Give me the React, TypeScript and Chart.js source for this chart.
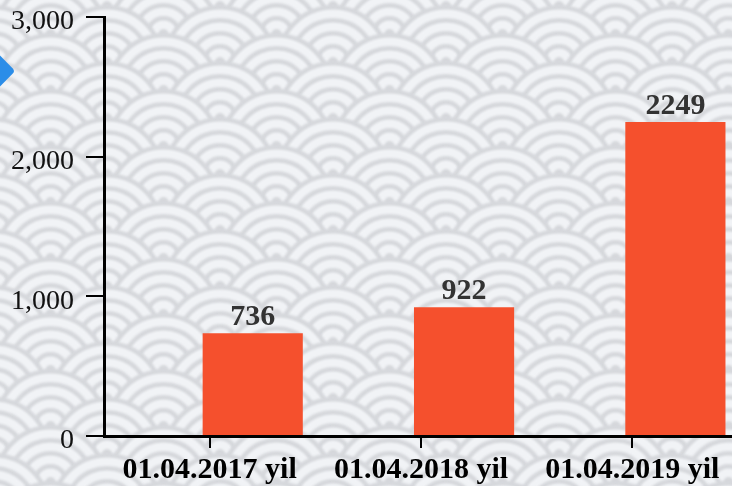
import React, { useEffect, useRef } from "react";
import { Chart, registerables } from "chart.js";

Chart.register(...registerables);

const categories = ["01.04.2017 yil", "01.04.2018 yil", "01.04.2019 yil"];
const values = [736, 922, 2249];
const yTicks = [0, 1000, 2000, 3000];

const SERIF = "'Liberation Serif', 'Times New Roman', serif";

const backgroundPlugin = {
  id: "seigaiha",
  beforeDraw(chart: any) {
    const ctx = chart.ctx as CanvasRenderingContext2D;
    const w = chart.width;
    const h = chart.height;
    ctx.save();
    ctx.fillStyle = "#f1f3f6";
    ctx.fillRect(0, 0, w, h);
    ctx.filter = "blur(1px)";
    const period = 113;
    const rings = [
      [57, "#d6d8dc"],
      [52.5, "#f1f3f6"],
      [44, "#d6d8dc"],
      [39.5, "#f1f3f6"],
      [31, "#d6d8dc"],
      [26.5, "#f1f3f6"],
      [18, "#d6d8dc"],
      [13.5, "#f1f3f6"],
      [5, "#d6d8dc"],
    ] as [number, string][];
    let row = 0;
    for (let cy = 62 - 28 * 4; cy < h + 90; cy += 28, row++) {
      const offset = row % 2 === 0 ? 0 : period / 2;
      for (let cx = 333 - period * 4 + offset; cx < w + 70; cx += period) {
        for (const [r, c] of rings) {
          ctx.beginPath();
          ctx.arc(cx, cy, r, 0, Math.PI * 2);
          ctx.fillStyle = c;
          ctx.fill();
        }
      }
    }
    ctx.restore();
    // blue diamond decoration
    ctx.save();
    ctx.translate(-3, 71);
    ctx.rotate(Math.PI / 4);
    ctx.beginPath();
    (ctx as any).roundRect(-13, -13, 26, 26, 4);
    ctx.fillStyle = "#2b8de8";
    ctx.fill();
    ctx.restore();
  },
};

const valueLabelPlugin = {
  id: "valueLabels",
  afterDatasetsDraw(chart: any) {
    const ctx = chart.ctx as CanvasRenderingContext2D;
    const meta = chart.getDatasetMeta(1);
    ctx.save();
    ctx.font = `bold 30px ${SERIF}`;
    ctx.fillStyle = "#333333";
    ctx.textAlign = "center";
    ctx.textBaseline = "alphabetic";
    meta.data.forEach((el: any, i: number) => {
      ctx.fillText(String(values[i]), el.x, el.y - 8);
    });
    ctx.restore();
  },
};

export default function App() {
  const canvasRef = useRef<HTMLCanvasElement | null>(null);

  useEffect(() => {
    document.body.style.margin = "0";
    const canvas = canvasRef.current;
    if (!canvas) return;
    const chart = new Chart(canvas, {
      type: "bar",
      data: {
        labels: categories,
        datasets: [
          {
            label: "spacer",
            data: categories.map(() => null),
            backgroundColor: "rgba(0,0,0,0)",
            categoryPercentage: 0.815,
            barPercentage: 1.163,
          },
          {
            label: "values",
            data: values,
            backgroundColor: "#f5502d",
            categoryPercentage: 0.815,
            barPercentage: 1.163,
          },
        ],
      },
      options: {
        responsive: false,
        animation: false,
        layout: { padding: { top: 0, left: 0, right: 0, bottom: 0 } },
        plugins: {
          legend: { display: false },
          tooltip: { enabled: false },
        },
        scales: {
          x: {
            type: "category",
            offset: true,
            grid: {
              display: true,
              drawOnChartArea: false,
              drawTicks: true,
              tickLength: 12,
              lineWidth: 2,
              color: "#000",
              offset: false,
            },
            border: { display: true, width: 3, color: "#000" },
            ticks: {
              font: { family: SERIF, size: 30, weight: "bold" },
              color: "#000",
              padding: 4,
              maxRotation: 0,
              autoSkip: false,
            },
            afterFit(scale: any) {
              scale.height = 50;
            },
          },
          y: {
            min: 0,
            max: 3000,
            afterBuildTicks(scale: any) {
              scale.ticks = yTicks.map((v) => ({ value: v }));
            },
            grid: {
              display: true,
              drawOnChartArea: false,
              drawTicks: true,
              tickLength: 18,
              lineWidth: 2,
              color: "#000",
            },
            border: { display: true, width: 3, color: "#000" },
            ticks: {
              font: { family: SERIF, size: 28 },
              color: "#111",
              padding: 12,
              labelOffset: 5,
            },
            afterFit(scale: any) {
              scale.width = 104;
              scale.paddingTop = 17;
              scale.paddingBottom = 0;
            },
          },
        },
      },
      plugins: [backgroundPlugin, valueLabelPlugin],
    });
    return () => chart.destroy();
  }, []);

  return (
    <div style={{ width: 732, height: 486, overflow: "hidden", position: "relative" }}>
      <canvas ref={canvasRef} width={738} height={486} style={{ display: "block" }} />
    </div>
  );
}
